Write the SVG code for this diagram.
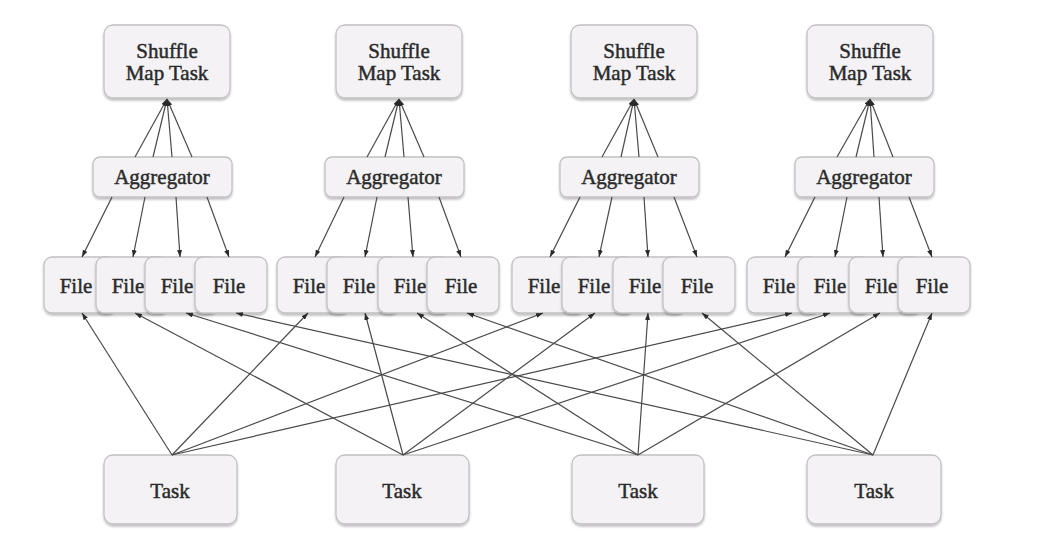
<svg xmlns="http://www.w3.org/2000/svg" width="1050" height="549" viewBox="0 0 1050 549">
<defs>
<filter id="sh" x="-10%" y="-10%" width="120%" height="130%">
<feDropShadow dx="0" dy="2" stdDeviation="1.2" flood-color="#000" flood-opacity="0.25"/>
</filter>
<marker id="ah" viewBox="0 0 7 5" refX="7" refY="2.5" markerWidth="7" markerHeight="5" markerUnits="userSpaceOnUse" orient="auto">
<path d="M0,0 L7,2.5 L0,5 z" fill="#2a2a2a"/>
</marker>
<style>
.box{fill:#f4f2f5;stroke:#c2c0c4;stroke-width:1.3;filter:url(#sh)}
.t{font-family:"Liberation Serif","Times New Roman",serif;font-size:21px;fill:#2a2a2a;stroke:#2a2a2a;stroke-width:0.45;text-anchor:middle}
.c line{stroke:#4a4a4a;stroke-width:1.2;marker-end:url(#ah)}
</style>
</defs>
<rect width="1050" height="549" fill="#fff"/>

<!-- Shuffle Map Tasks -->
<g id="smt1"><rect class="box" x="104" y="25" width="126" height="73" rx="9"/><text class="t" x="167" y="58">Shuffle</text><text class="t" x="167" y="80">Map Task</text></g>
<g id="smt2"><rect class="box" x="336" y="25" width="126" height="73" rx="9"/><text class="t" x="399" y="58">Shuffle</text><text class="t" x="399" y="80">Map Task</text></g>
<g id="smt3"><rect class="box" x="571" y="25" width="126" height="73" rx="9"/><text class="t" x="634" y="58">Shuffle</text><text class="t" x="634" y="80">Map Task</text></g>
<g id="smt4"><rect class="box" x="807" y="25" width="126" height="73" rx="9"/><text class="t" x="870" y="58">Shuffle</text><text class="t" x="870" y="80">Map Task</text></g>

<!-- Aggregators -->
<g id="agg1"><rect class="box" x="93" y="157" width="139" height="40" rx="7"/><text class="t" x="162" y="184">Aggregator</text></g>
<g id="agg2"><rect class="box" x="325" y="157" width="139" height="40" rx="7"/><text class="t" x="394" y="184">Aggregator</text></g>
<g id="agg3"><rect class="box" x="560" y="157" width="139" height="40" rx="7"/><text class="t" x="629" y="184">Aggregator</text></g>
<g id="agg4"><rect class="box" x="795" y="157" width="139" height="40" rx="7"/><text class="t" x="864" y="184">Aggregator</text></g>

<!-- Files -->
<g id="f1a"><rect class="box" x="44" y="257" width="72" height="56" rx="8"/><text class="t" x="76" y="293">File</text></g>
<g id="f1b"><rect class="box" x="96" y="257" width="72" height="56" rx="8"/><text class="t" x="128" y="293">File</text></g>
<g id="f1c"><rect class="box" x="145" y="257" width="72" height="56" rx="8"/><text class="t" x="177" y="293">File</text></g>
<g id="f1d"><rect class="box" x="195" y="257" width="72" height="56" rx="8"/><text class="t" x="229" y="293">File</text></g>

<g id="f2a"><rect class="box" x="277" y="257" width="72" height="56" rx="8"/><text class="t" x="309" y="293">File</text></g>
<g id="f2b"><rect class="box" x="327" y="257" width="72" height="56" rx="8"/><text class="t" x="359" y="293">File</text></g>
<g id="f2c"><rect class="box" x="378" y="257" width="72" height="56" rx="8"/><text class="t" x="410" y="293">File</text></g>
<g id="f2d"><rect class="box" x="427" y="257" width="72" height="56" rx="8"/><text class="t" x="461" y="293">File</text></g>

<g id="f3a"><rect class="box" x="512" y="257" width="72" height="56" rx="8"/><text class="t" x="544" y="293">File</text></g>
<g id="f3b"><rect class="box" x="562" y="257" width="72" height="56" rx="8"/><text class="t" x="594" y="293">File</text></g>
<g id="f3c"><rect class="box" x="613" y="257" width="72" height="56" rx="8"/><text class="t" x="645" y="293">File</text></g>
<g id="f3d"><rect class="box" x="663" y="257" width="72" height="56" rx="8"/><text class="t" x="697" y="293">File</text></g>

<g id="f4a"><rect class="box" x="747" y="257" width="72" height="56" rx="8"/><text class="t" x="779" y="293">File</text></g>
<g id="f4b"><rect class="box" x="798" y="257" width="72" height="56" rx="8"/><text class="t" x="830" y="293">File</text></g>
<g id="f4c"><rect class="box" x="849" y="257" width="72" height="56" rx="8"/><text class="t" x="881" y="293">File</text></g>
<g id="f4d"><rect class="box" x="898" y="257" width="72" height="56" rx="8"/><text class="t" x="932" y="293">File</text></g>

<!-- Tasks -->
<g id="task1"><rect class="box" x="104" y="455" width="133" height="69" rx="9"/><text class="t" x="170" y="498">Task</text></g>
<g id="task2"><rect class="box" x="336" y="455" width="133" height="69" rx="9"/><text class="t" x="402" y="498">Task</text></g>
<g id="task3"><rect class="box" x="572" y="455" width="132" height="69" rx="9"/><text class="t" x="638" y="498">Task</text></g>
<g id="task4"><rect class="box" x="807" y="455" width="134" height="69" rx="9"/><text class="t" x="874" y="498">Task</text></g>

<g id="connectors" class="c">
<!-- Aggregator to Shuffle Map Task -->
<line x1="135" y1="157" x2="167" y2="99"/><line x1="153" y1="157" x2="167" y2="99"/><line x1="172" y1="157" x2="167" y2="99"/><line x1="192" y1="157" x2="167" y2="99"/>
<line x1="367" y1="157" x2="399" y2="99"/><line x1="385" y1="157" x2="399" y2="99"/><line x1="404" y1="157" x2="399" y2="99"/><line x1="424" y1="157" x2="399" y2="99"/>
<line x1="602" y1="157" x2="634" y2="99"/><line x1="621" y1="157" x2="634" y2="99"/><line x1="639" y1="157" x2="634" y2="99"/><line x1="658" y1="157" x2="634" y2="99"/>
<line x1="837" y1="157" x2="870" y2="99"/><line x1="856" y1="157" x2="870" y2="99"/><line x1="874" y1="157" x2="870" y2="99"/><line x1="893" y1="157" x2="870" y2="99"/>
<!-- Aggregator to Files -->
<line x1="112" y1="197" x2="82" y2="257"/><line x1="145" y1="197" x2="133" y2="257"/><line x1="176" y1="197" x2="180" y2="257"/><line x1="207" y1="197" x2="229" y2="257"/>
<line x1="344" y1="197" x2="315" y2="257"/><line x1="377" y1="197" x2="365" y2="257"/><line x1="408" y1="197" x2="413" y2="257"/><line x1="439" y1="197" x2="461" y2="257"/>
<line x1="580" y1="197" x2="550" y2="257"/><line x1="612" y1="197" x2="599" y2="257"/><line x1="644" y1="197" x2="648" y2="257"/><line x1="674" y1="197" x2="697" y2="257"/>
<line x1="815" y1="197" x2="785" y2="257"/><line x1="847" y1="197" x2="835" y2="257"/><line x1="879" y1="197" x2="883" y2="257"/><line x1="909" y1="197" x2="932" y2="257"/>
<!-- Tasks to Files -->
<line x1="172" y1="455" x2="82" y2="313"/><line x1="172" y1="455" x2="308" y2="313"/><line x1="172" y1="455" x2="543" y2="313"/><line x1="172" y1="455" x2="792" y2="313"/>
<line x1="403" y1="455" x2="135" y2="313"/><line x1="403" y1="455" x2="365" y2="313"/><line x1="403" y1="455" x2="595" y2="313"/><line x1="403" y1="455" x2="830" y2="313"/>
<line x1="638" y1="455" x2="186" y2="313"/><line x1="638" y1="455" x2="417" y2="313"/><line x1="638" y1="455" x2="648" y2="313"/><line x1="638" y1="455" x2="880" y2="313"/>
<line x1="873" y1="455" x2="236" y2="313"/><line x1="873" y1="455" x2="467" y2="313"/><line x1="873" y1="455" x2="702" y2="313"/><line x1="873" y1="455" x2="932" y2="313"/>
</g>
</svg>
